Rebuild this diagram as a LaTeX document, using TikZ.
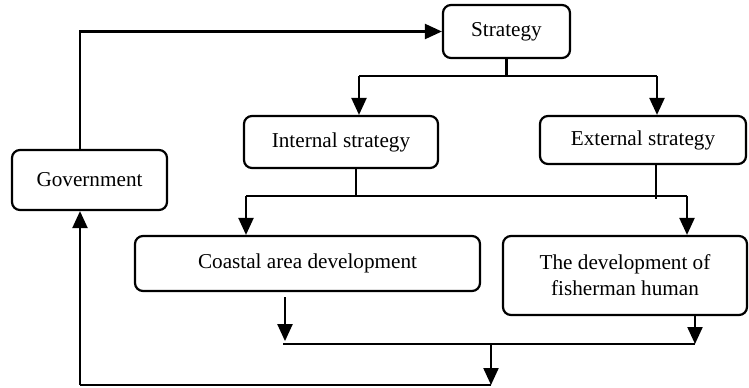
\documentclass[tikz,border=0pt]{standalone}
\usepackage{fontspec}
\setmainfont{Liberation Serif}
\usetikzlibrary{calc, arrows.meta}

\begin{document}
\begin{tikzpicture}[x=0.5pt, y=-0.5pt,
    box/.style={draw, line width=1.1pt, rounded corners=4pt, align=center,
      inner sep=0pt, font=\fontsize{10.6}{13}\selectfont},
    link/.style={line width=1.1pt},
    arr/.style={line width=1.1pt, -{Triangle[length=8.5pt,width=7.5pt]}}]
        \useasboundingbox (0,0) rectangle (749,387);

        % Boxes
        \node[box, minimum width=63.5pt, minimum height=26.5pt] (strategy) at (506.5,31.5) {Strategy};
        \node[box, minimum width=77.5pt, minimum height=30pt] (govt) at (89.5,180) {Government};
        \node[box, minimum width=97pt, minimum height=26pt] (internal) at (341,142) {Internal strategy};
        \node[box, minimum width=103pt, minimum height=24pt] (external) at (643,140) {External strategy};
        \node[box, minimum width=172.5pt, minimum height=27.5pt] (coastal) at (307.5,263.5) {Coastal area development};
        \node[box, minimum width=122pt, minimum height=39.5pt] (fisher) at (625,275.5) {The development of\\fisherman human};

        % Coordinates
        \coordinate (gx) at (80,385);
        \coordinate (sL) at (359,76);
        \coordinate (sR) at (657,76);
        \coordinate (iL) at (246,196);
        \coordinate (iR) at (687,196);
        \coordinate (cL) at (283,344);
        \coordinate (cR) at (695,344);
        \coordinate (mid) at (491,344);

        % Government to strategy
        \draw[arr] (gx |- govt.north) |- (strategy.west);

        % Strategy split
        \draw[link] (strategy.south) -- (strategy.south |- sL);
        \draw[link] (sL) -- (sR);
        \draw[arr] (sL) -- (sL |- internal.north);
        \draw[arr] (sR) -- (sR |- external.north);

        % Internal / external split
        \draw[link] ($(internal.south)+(15,0)$) coordinate (i1) -- (i1 |- iL);
        \draw[link] ($(external.south)+(13,0)$) coordinate (e1) -- ($(e1 |- iR)+(0,3)$);
        \draw[link] (iL) -- (iR);
        \draw[arr] (iL) -- (iL |- coastal.north);
        \draw[arr] (iR) -- (iR |- fisher.north);

        % Back to government
        \draw[arr] ($(coastal.south)+(-22.5,5)$) -- ++(0,44);
        \draw[arr] (fisher.south -| cR) -- (cR);
        \draw[link] (cL) -- (cR);
        \draw[arr] (mid) -- (mid |- gx);
        \draw[link] (mid |- gx) -- (gx);
        \draw[arr] (gx) -- (gx |- govt.south);
    \end{tikzpicture}
\end{document}
